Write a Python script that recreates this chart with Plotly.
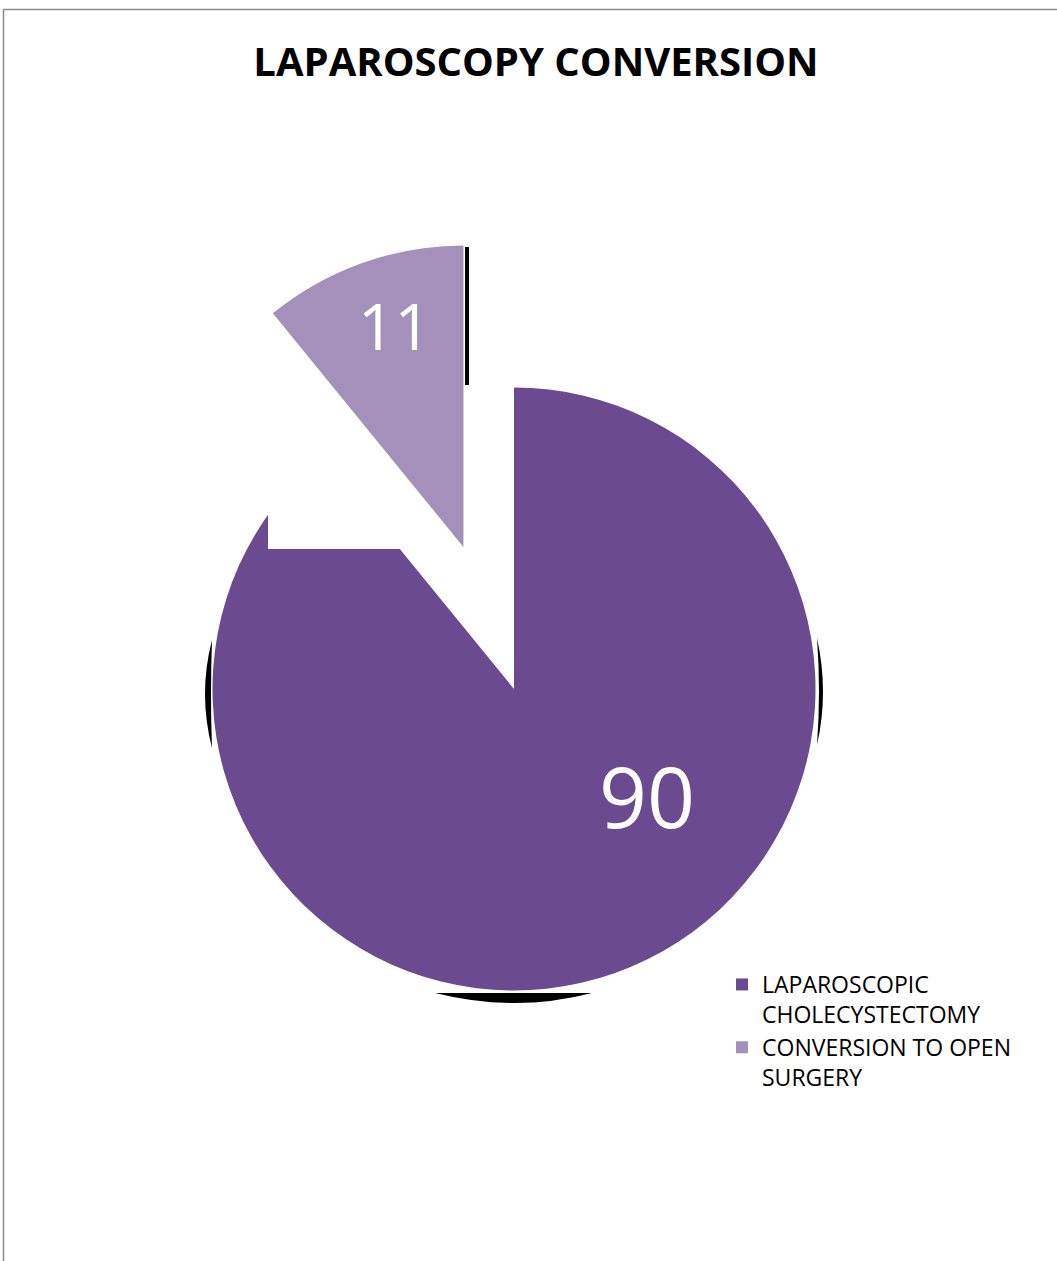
import plotly.graph_objects as go

# ---- data ----
labels = ["LAPAROSCOPIC<br>CHOLECYSTECTOMY", "CONVERSION TO OPEN<br>SURGERY"]
values = [90, 11]
colors = ["#6a4b8f", "#a391bb"]
pulls = [0, 0.5]
title_text = "LAPAROSCOPY CONVERSION"

W, H = 1057, 1261


def px(x):
    return x / W


def py(y):
    return 1 - y / H


fig = go.Figure()
fig.add_trace(go.Pie(
    labels=labels,
    values=values,
    sort=False,
    direction="clockwise",
    rotation=0,
    pull=pulls,
    marker=dict(colors=colors, line=dict(width=0)),
    textinfo="none",
    domain=dict(x=[0.05842, 0.91415], y=[0.09496, 0.81225]),
    hoverinfo="label+value",
))

# value labels (placed as in the reference)
label_pos = [(647, 795), (394, 326)]
label_size = [84, 64]
for v, (lx, ly), s in zip(values, label_pos, label_size):
    fig.add_annotation(
        x=px(lx), y=py(ly), xref="paper", yref="paper",
        text=str(v), showarrow=False,
        font=dict(family="Open Sans", size=s, color="white"),
        xanchor="center", yanchor="middle",
    )

shapes = []
# white mask (rendering artefact in the reference)
shapes.append(dict(
    type="path", xref="paper", yref="paper", layer="above",
    path=f"M {px(268)},{py(549)} L {px(458)},{py(549)} L {px(268)},{py(320)} Z",
    fillcolor="white", line=dict(width=0),
))
# black shadow slivers
shapes.append(dict(
    type="path", xref="paper", yref="paper", layer="below",
    path=f"M {px(435)},{py(993)} L {px(592)},{py(993)} Q {px(515)},{py(1013)} {px(435)},{py(993)} Z",
    fillcolor="black", line=dict(width=0),
))
shapes.append(dict(
    type="path", xref="paper", yref="paper", layer="below",
    path=f"M {px(212)},{py(640)} Q {px(198)},{py(694)} {px(212)},{py(748)} Q {px(210)},{py(694)} {px(212)},{py(640)} Z",
    fillcolor="black", line=dict(width=0),
))
shapes.append(dict(
    type="path", xref="paper", yref="paper", layer="below",
    path=f"M {px(817)},{py(638)} Q {px(829)},{py(692)} {px(817)},{py(745)} Q {px(821)},{py(692)} {px(817)},{py(638)} Z",
    fillcolor="black", line=dict(width=0),
))
shapes.append(dict(
    type="line", xref="paper", yref="paper", layer="below",
    x0=px(467), x1=px(467), y0=py(247), y1=py(385),
    line=dict(color="black", width=4),
))
# chart border (top and left edges visible)
shapes.append(dict(
    type="line", xref="paper", yref="paper", layer="above",
    x0=px(3), x1=px(1060), y0=py(9.5), y1=py(9.5),
    line=dict(color="#8c8c8c", width=1.5),
))
shapes.append(dict(
    type="line", xref="paper", yref="paper", layer="above",
    x0=px(3.5), x1=px(3.5), y0=py(9), y1=py(1265),
    line=dict(color="#8c8c8c", width=1.5),
))

fig.update_layout(
    width=W, height=H,
    margin=dict(l=0, r=0, t=0, b=0),
    paper_bgcolor="white",
    plot_bgcolor="white",
    title=dict(
        text=f"<b>{title_text}</b>",
        x=px(536), xanchor="center",
        y=py(62), yanchor="middle", yref="container", xref="container",
        font=dict(family="Open Sans", size=40, color="black"),
    ),
    showlegend=True,
    legend=dict(
        x=px(722), y=py(963), xanchor="left", yanchor="top",
        font=dict(family="Open Sans", size=23, color="black"),
        valign="top",
        bgcolor="rgba(0,0,0,0)",
        itemclick=False,
    ),
    shapes=shapes,
)

fig.write_html("out.html")
